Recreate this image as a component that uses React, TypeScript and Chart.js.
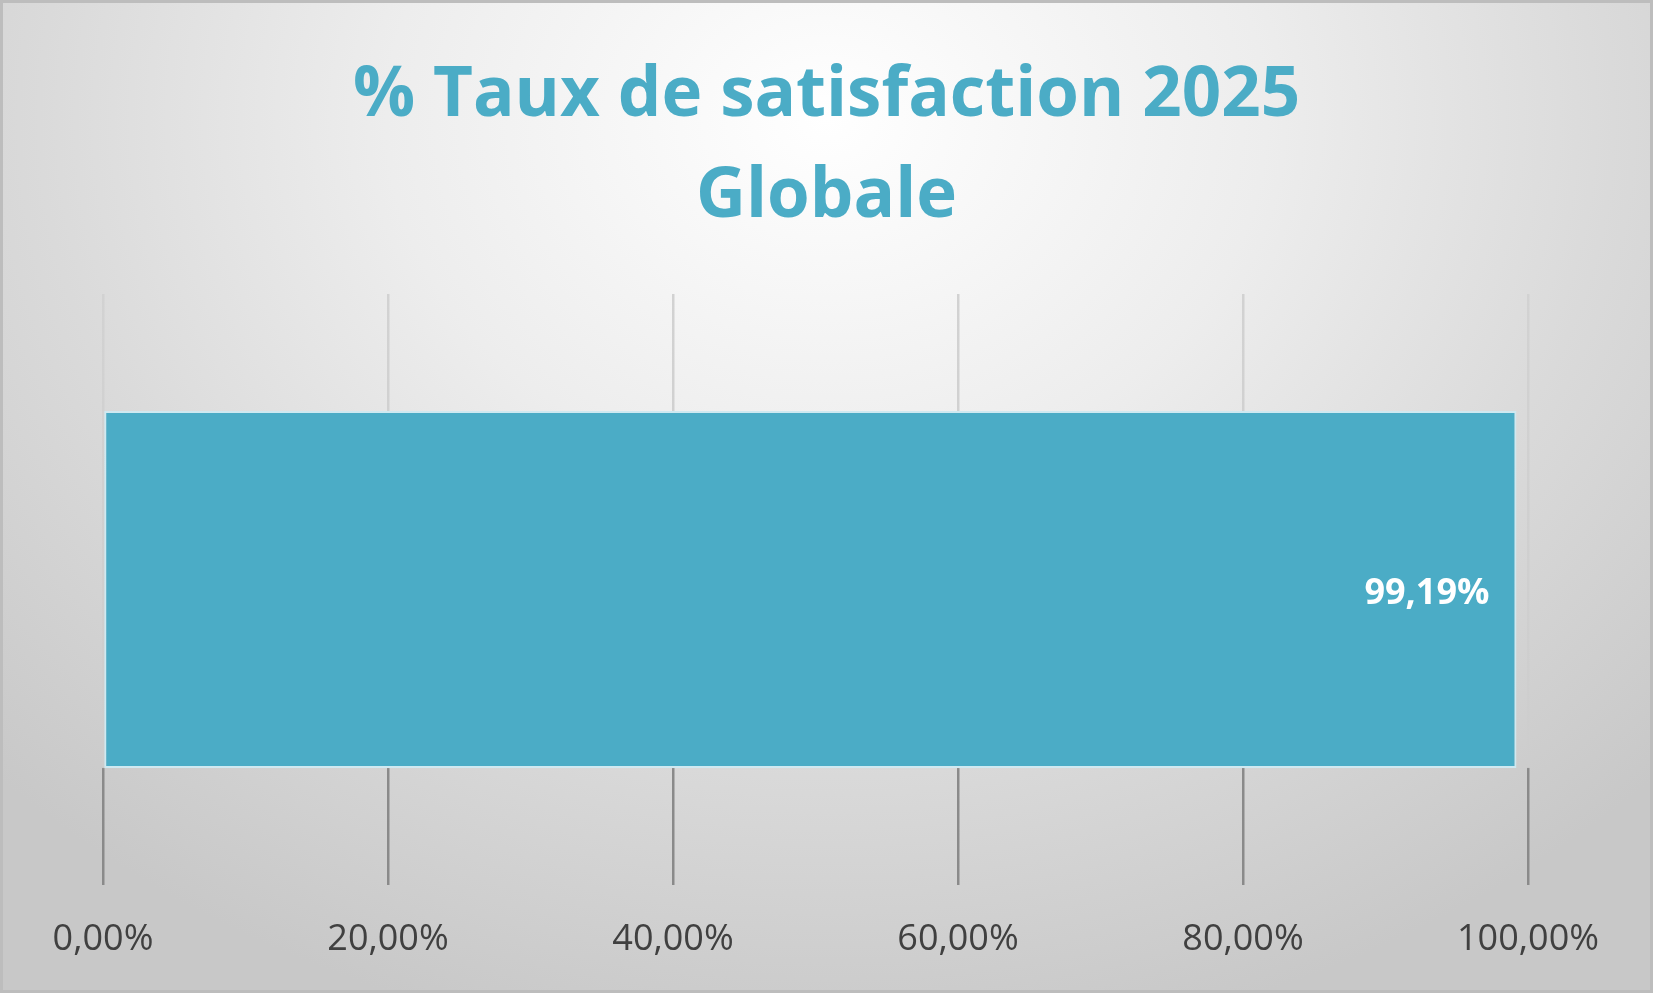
import React, { useEffect, useRef } from "react";
import { Chart, registerables } from "chart.js";

Chart.register(...registerables);

const categories: string[] = ["Globale"];
const satisfactionValues: number[] = [99.19];
const titleLines: string[] = ["% Taux de satisfaction 2025", "Globale"];
const axisMin = 0;
const axisMax = 100;
const axisStep = 20;

const W = 1653;
const H = 993;
const ACCENT = "#4bacc6";

const fmt = (v: number) => v.toFixed(2).replace(".", ",") + "%";

const titlePlugin = {
  id: "centeredTitle",
  afterDraw(chart: any) {
    const ctx = chart.ctx;
    ctx.save();
    ctx.font = "bold 69px 'Open Sans'";
    ctx.fillStyle = ACCENT;
    ctx.textAlign = "center";
    ctx.textBaseline = "middle";
    titleLines.forEach((line, i) => {
      ctx.fillText(line, chart.width / 2, 96 + i * 101);
    });
    ctx.restore();
  },
};

const valueLabelPlugin = {
  id: "valueLabel",
  afterDatasetsDraw(chart: any) {
    const ctx = chart.ctx;
    const meta = chart.getDatasetMeta(0);
    meta.data.forEach((el: any, i: number) => {
      const v = chart.data.datasets[0].data[i] as number;
      ctx.save();
      ctx.font = "bold 36px 'Open Sans'";
      ctx.fillStyle = "#ffffff";
      ctx.textAlign = "right";
      ctx.textBaseline = "middle";
      ctx.fillText(fmt(v), el.x - 27, el.y + 4);
      ctx.restore();
    });
  },
};

export default function App() {
  const ref = useRef<HTMLCanvasElement | null>(null);
  useEffect(() => {
    if (!ref.current) return;
    const gridColor = (c: any) => {
      const chart = c.chart;
      const area = chart.chartArea;
      if (!area) return "#bbbbbb";
      const meta = chart.getDatasetMeta(0);
      const el: any = meta && meta.data && meta.data[0];
      let split = area.top + (area.bottom - area.top) * 0.8;
      if (el && typeof el.y === "number" && typeof el.height === "number") {
        split = el.y + el.height / 2;
      }
      const g = chart.ctx.createLinearGradient(0, area.top, 0, area.bottom);
      const f = Math.min(1, Math.max(0, (split - area.top) / (area.bottom - area.top)));
      g.addColorStop(0, "#d2d2d2");
      g.addColorStop(Math.max(0, f - 0.001), "#cdcdcd");
      g.addColorStop(Math.min(1, f + 0.001), "#8a8a8a");
      g.addColorStop(1, "#8a8a8a");
      return g;
    };
    const chart = new Chart(ref.current, {
      type: "bar",
      data: {
        labels: categories,
        datasets: [
          {
            data: satisfactionValues,
            backgroundColor: ACCENT,
            borderColor: "#cfe9f1",
            borderWidth: 2,
            borderSkipped: false,
            barPercentage: 0.604,
            categoryPercentage: 1,
          },
        ],
      },
      options: {
        indexAxis: "y",
        responsive: false,
        animation: false,
        devicePixelRatio: 1,
        layout: { padding: { left: 103, right: 125, top: 294, bottom: 0 } },
        plugins: {
          legend: { display: false },
          tooltip: { enabled: false },
          title: { display: false },
        },
        scales: {
          x: {
            min: axisMin,
            max: axisMax,
            border: { display: false },
            grid: { color: gridColor, lineWidth: 2.5, drawTicks: false },
            afterFit: (scale: any) => {
              scale.height = 108;
            },
            ticks: {
              stepSize: axisStep,
              padding: 33,
              color: "#404040",
              font: { family: "'Open Sans'", size: 36 },
              callback: (v: any) => fmt(Number(v)),
            },
          },
          y: { display: false },
        },
      },
      plugins: [valueLabelPlugin, titlePlugin],
    } as any);
    return () => chart.destroy();
  }, []);
  return (
    <div
      style={{
        position: "fixed",
        left: 0,
        top: 0,
        width: W,
        height: H,
        background:
          "radial-gradient(ellipse 70% 95% at 50% 12%, #ffffff 0%, #ededed 38%, #dadada 68%, #c8c8c8 100%)",
      }}
    >
      <canvas ref={ref} width={W} height={H} style={{ position: "absolute", left: 0, top: 0 }} />
      <div
        style={{
          position: "absolute",
          left: 0,
          top: 0,
          width: W,
          height: H,
          boxSizing: "border-box",
          border: "3px solid #bdbdbd",
          pointerEvents: "none",
        }}
      />
    </div>
  );
}
